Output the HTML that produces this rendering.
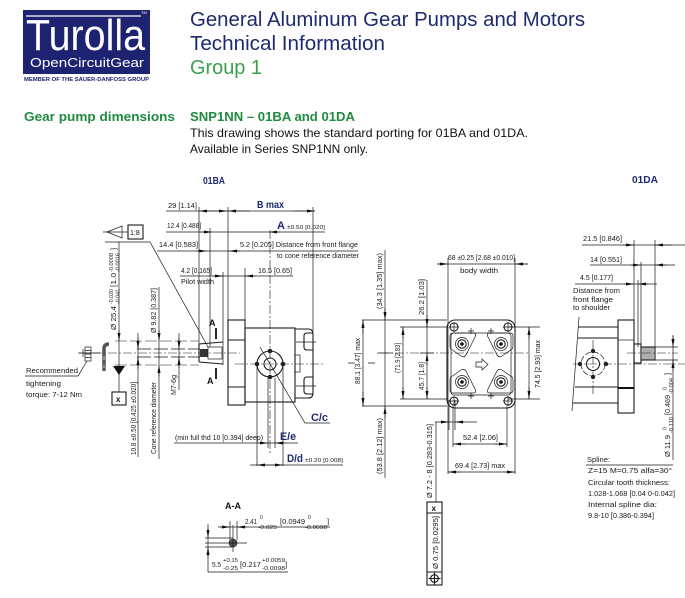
<!DOCTYPE html>
<html><head><meta charset="utf-8"><style>
html,body{margin:0;padding:0;background:#fff}
svg{display:block}
text{font-family:"Liberation Sans",sans-serif}
.t{font-size:7.5px;fill:#1a1a1a}
.s{font-size:5px;fill:#1a1a1a}
.b{font-weight:bold;fill:#1f2a6e}
.l{stroke:#1a1a1a;stroke-width:.7;fill:none}
.o{stroke:#1a1a1a;stroke-width:1.1;fill:none}
.c{stroke:#1a1a1a;stroke-width:.6;fill:none;stroke-dasharray:9 2 2 2}
.p{stroke:#1a1a1a;stroke-width:.6;fill:none;stroke-dasharray:12 3}
</style></head><body>
<svg width="685" height="598" viewBox="0 0 685 598" xmlns="http://www.w3.org/2000/svg">
<defs>
<marker id="a" viewBox="0 0 8 3" refX="8" refY="1.5" markerWidth="8" markerHeight="3" markerUnits="userSpaceOnUse" orient="auto"><path d="M0,0L8,1.5L0,3z" fill="#111"/></marker>
</defs>
<rect width="685" height="598" fill="#fff"/>

<!-- Header -->
<rect x="23" y="10" width="127" height="64" fill="#1d2371"/>
<line x1="26" y1="16" x2="141" y2="16" stroke="#fff" stroke-width="1.3"/>
<text x="26" y="50" font-size="44" fill="#fff" textLength="119" lengthAdjust="spacingAndGlyphs">Turolla</text>
<text x="141" y="14" font-size="4" fill="#fff">TM</text>
<text x="30" y="67" font-size="13" fill="#fff" textLength="114" lengthAdjust="spacingAndGlyphs">OpenCircuitGear</text>
<text x="24" y="81" font-size="5" font-weight="bold" fill="#1d2371" textLength="125" lengthAdjust="spacingAndGlyphs">MEMBER OF THE SAUER-DANFOSS GROUP</text>

<text x="190" y="26" font-size="20" fill="#1f2a6e" textLength="395" lengthAdjust="spacingAndGlyphs">General Aluminum Gear Pumps and Motors</text>
<text x="190" y="50" font-size="20" fill="#1f2a6e" textLength="195" lengthAdjust="spacingAndGlyphs">Technical Information</text>
<text x="190" y="74" font-size="20" fill="#3a9e4f" textLength="72" lengthAdjust="spacingAndGlyphs">Group 1</text>

<text x="24" y="121" font-size="13" font-weight="bold" fill="#1f8a40" textLength="151" lengthAdjust="spacingAndGlyphs">Gear pump dimensions</text>
<text x="190" y="121" font-size="13" font-weight="bold" fill="#1f8a40" textLength="165" lengthAdjust="spacingAndGlyphs">SNP1NN – 01BA and 01DA</text>
<text x="190" y="137" font-size="12" fill="#111" textLength="338" lengthAdjust="spacingAndGlyphs">This drawing shows the standard porting for 01BA and 01DA.</text>
<text x="190" y="153" font-size="12" fill="#111" textLength="178" lengthAdjust="spacingAndGlyphs">Available in Series SNP1NN only.</text>

<!-- ================= 01BA ================= -->
<text x="203" y="184" font-size="10" class="b" textLength="22" lengthAdjust="spacingAndGlyphs">01BA</text>

<!-- top dims -->
<path class="l" d="M166,211H315"/>
<text class="t" x="168" y="208" textLength="29" lengthAdjust="spacingAndGlyphs">29 [1.14]</text>
<path class="l" d="M213,211H199" marker-end="url(#a)"/>
<path class="l" d="M213,211H227" marker-end="url(#a)"/>
<path class="l" d="M250,211H228" marker-end="url(#a)"/>
<path class="l" d="M295,211H315" marker-end="url(#a)"/>
<text x="257" y="208" font-size="10.5" class="b" textLength="27" lengthAdjust="spacingAndGlyphs">B max</text>

<path class="l" d="M166,232H325"/>
<text class="t" x="167" y="228" textLength="34" lengthAdjust="spacingAndGlyphs">12.4 [0.488]</text>
<path class="l" d="M200,232H212" marker-end="url(#a)"/>
<path class="l" d="M280,232H269" marker-end="url(#a)"/>
<text x="277" y="229" font-size="11" class="b">A</text>
<text x="287" y="229" font-size="5.5" fill="#1a1a1a" textLength="38" lengthAdjust="spacingAndGlyphs">±0.50 [0.020]</text>

<path class="l" d="M157,251H358"/>
<text class="t" x="159" y="247" textLength="39" lengthAdjust="spacingAndGlyphs">14.4 [0.583]</text>
<path class="l" d="M196,251H207" marker-end="url(#a)"/>
<path class="l" d="M240,251H229" marker-end="url(#a)"/>
<text class="t" x="240" y="247" textLength="118" lengthAdjust="spacingAndGlyphs">5.2 [0.205] Distance from front flange</text>
<text class="t" x="277" y="258" textLength="82" lengthAdjust="spacingAndGlyphs">to cone reference diameter</text>

<path class="l" d="M180,276H293"/>
<text class="t" x="181" y="273" textLength="31" lengthAdjust="spacingAndGlyphs">4.2 [0.165]</text>
<text class="t" x="181" y="284" textLength="33" lengthAdjust="spacingAndGlyphs">Pilot width</text>
<text class="t" x="258" y="273" textLength="34" lengthAdjust="spacingAndGlyphs">16.5 [0.65]</text>
<path class="l" d="M212,276H223" marker-end="url(#a)"/>
<path class="l" d="M256,276H245" marker-end="url(#a)"/>

<!-- extension lines -->
<path class="l" d="M199,207V345 M210,228V347 M223,272V365 M228,207V320 M245,268V328 M313,207V331"/>
<path class="c" d="M270,230V455"/>

<!-- section A -->
<path d="M216,328V339 M216,368V379" stroke="#111" stroke-width="1.8"/>
<text x="209" y="326" font-size="9" font-weight="bold" fill="#111">A</text>
<text x="207" y="384" font-size="9" font-weight="bold" fill="#111">A</text>

<!-- shaft -->
<path class="p" d="M115,341H199 M115,365H199"/>
<path class="l" d="M137,349H200 M137,357H200" stroke-dasharray="14 3"/>
<path class="c" d="M78,353H240"/>
<path class="o" d="M199,344L223,342 M199,362L223,364 M199,344V362"/>
<rect x="200" y="349" width="8" height="8" fill="#333"/>
<rect x="208" y="347" width="14" height="12" class="l"/>

<!-- flange + body -->
<rect x="228" y="320" width="17" height="85" class="o"/>
<path class="o" d="M228,340H245 M228,387H245"/>
<rect x="245" y="328" width="50" height="74" class="o"/>
<path class="o" d="M295,329H308Q313,329 313,334V393Q313,398 308,398H295"/>
<path class="o" d="M313,333H307Q304,333 304,336V347Q304,350 307,350H313 M313,377H307Q304,377 304,380V391Q304,394 307,394H313"/>
<path class="l" d="M296,342H316 M296,386H316"/>
<rect x="295" y="355" width="5" height="17" class="l"/>
<circle cx="270" cy="364" r="13" class="o"/>
<circle cx="270" cy="364" r="6" class="o"/>
<circle cx="270" cy="351" r="2.3" fill="#222"/>
<circle cx="257" cy="364" r="2.3" fill="#222"/>
<circle cx="283" cy="364" r="2.3" fill="#222"/>
<circle cx="270" cy="377" r="2.3" fill="#222"/>
<path class="c" d="M235,364H323"/>

<!-- C/c -->
<path class="l" d="M260,347L305,423H330"/>
<text x="311" y="421" font-size="11" class="b" textLength="17" lengthAdjust="spacingAndGlyphs">C/c</text>

<!-- E/e and D/d -->
<path class="l" d="M257,366V466 M283,366V466 M268,378V448 M275,378V448"/>
<path class="l" d="M174,443H298"/>
<text class="t" x="175" y="440" textLength="88" lengthAdjust="spacingAndGlyphs">(min full thd 10 [0.394] deep)</text>
<path class="l" d="M258,443H268" marker-end="url(#a)"/>
<path class="l" d="M285,443H275" marker-end="url(#a)"/>
<text x="280" y="440" font-size="11" class="b" textLength="16" lengthAdjust="spacingAndGlyphs">E/e</text>
<path class="l" d="M250,465H343"/>
<path class="l" d="M270,465H257" marker-end="url(#a)"/>
<path class="l" d="M270,465H283" marker-end="url(#a)"/>
<text x="287" y="462" font-size="11" class="b" textLength="16" lengthAdjust="spacingAndGlyphs">D/d</text>
<text x="305" y="462" font-size="5.5" fill="#1a1a1a" textLength="38" lengthAdjust="spacingAndGlyphs">±0.20 [0.008]</text>

<!-- left annotations -->
<path class="l" d="M103,232H128"/>
<path class="l" d="M107,232L122,226V238Z"/>
<rect x="128" y="225" width="15" height="14" class="o"/>
<text x="130" y="235" font-size="7" fill="#111">1:8</text>
<path class="l" d="M105,242H150L208,347"/>
<path class="l" d="M119,242V392"/>
<path class="l" d="M119,330V341" marker-end="url(#a)"/>
<path d="M113,366H125L119,375Z" fill="#111"/>
<rect x="112" y="392" width="14" height="13" class="o"/>
<text x="116" y="402" font-size="8" font-weight="bold" fill="#111">x</text>
<g transform="translate(116,330) rotate(-90)" fill="#1a1a1a">
<text x="0" y="0" font-size="7.5" textLength="24" lengthAdjust="spacingAndGlyphs">Ø 25.4</text>
<text x="26" y="-3" font-size="5" textLength="15" lengthAdjust="spacingAndGlyphs">-0.020</text>
<text x="26" y="3.5" font-size="5" textLength="15" lengthAdjust="spacingAndGlyphs">-0.041</text>
<text x="43" y="0" font-size="7.5" textLength="14" lengthAdjust="spacingAndGlyphs">[1.0</text>
<text x="58" y="-3" font-size="5" textLength="19" lengthAdjust="spacingAndGlyphs">-0.0008</text>
<text x="58" y="3.5" font-size="5" textLength="19" lengthAdjust="spacingAndGlyphs">-0.0016</text>
<text x="80" y="0" font-size="7.5">]</text>
</g>

<!-- nut and key -->
<path class="l" d="M79,353H100 M83,349V357"/>
<rect x="85" y="347" width="6" height="14" class="l"/>
<path class="l" d="M85,350.5H91 M85,354H91 M85,357.5H91"/>
<path d="M104,371V349Q104,344 109,344" stroke="#555" stroke-width="3.5" fill="none"/>
<path d="M104,356V360 M104,365V368" stroke="#ccc" stroke-width="1"/>

<text class="t" x="26" y="373" textLength="52" lengthAdjust="spacingAndGlyphs">Recommended</text>
<path class="l" d="M25,376H78L87,361"/>
<text class="t" x="26" y="386" textLength="35" lengthAdjust="spacingAndGlyphs">tightening</text>
<text class="t" x="26" y="397" textLength="56" lengthAdjust="spacingAndGlyphs">torque: 7-12 Nm</text>

<!-- vertical dims -->
<path class="l" d="M138,333V457"/>
<path class="l" d="M138,337V349" marker-end="url(#a)"/>
<path class="l" d="M138,369V357" marker-end="url(#a)"/>
<text class="t" transform="translate(136,455) rotate(-90)" textLength="73" lengthAdjust="spacingAndGlyphs">10.8 ±0.50 [0.425 ±0.020]</text>
<path class="l" d="M159,287V459"/>
<path class="l" d="M159,330V341" marker-end="url(#a)"/>
<path class="l" d="M159,376V365" marker-end="url(#a)"/>
<text class="t" transform="translate(156,333) rotate(-90)" textLength="45" lengthAdjust="spacingAndGlyphs">Ø 9.82 [0.387]</text>
<text class="t" transform="translate(156,454) rotate(-90)" textLength="72" lengthAdjust="spacingAndGlyphs">Cone reference diameter</text>
<path class="l" d="M179,333V390"/>
<path class="l" d="M179,338V349" marker-end="url(#a)"/>
<path class="l" d="M179,368V357" marker-end="url(#a)"/>
<text class="t" transform="translate(176,395) rotate(-90)" textLength="20" lengthAdjust="spacingAndGlyphs">M7-6g</text>

<!-- A-A section -->
<text x="225" y="509" font-size="9" font-weight="bold" fill="#111" textLength="16" lengthAdjust="spacingAndGlyphs">A-A</text>
<circle cx="233" cy="543" r="4" fill="#555" stroke="#111" stroke-width=".6"/>
<path class="l" d="M205,543H247 M233,525V552 M205,538H233 M205,547H233 M230,521V540 M237,521V540"/>
<path class="l" d="M218,527H330"/>
<path class="l" d="M220,527H230" marker-end="url(#a)"/>
<path class="l" d="M247,527H237" marker-end="url(#a)"/>
<text class="t" x="245" y="524" textLength="12" lengthAdjust="spacingAndGlyphs">2.41</text>
<text class="s" x="260" y="519">0</text>
<text class="s" x="258" y="529" textLength="19" lengthAdjust="spacingAndGlyphs">-0.025</text>
<text class="t" x="280" y="524" textLength="25" lengthAdjust="spacingAndGlyphs">[0.0949</text>
<text class="s" x="308" y="519">0</text>
<text class="s" x="305" y="529" textLength="22" lengthAdjust="spacingAndGlyphs">-0.0098</text>
<text class="t" x="327" y="524">]</text>
<path class="l" d="M208,524V572H288"/>
<path class="l" d="M208,527V538" marker-end="url(#a)"/>
<path class="l" d="M208,558V547" marker-end="url(#a)"/>
<text class="t" x="212" y="567" textLength="9" lengthAdjust="spacingAndGlyphs">5.5</text>
<text class="s" x="223" y="562" textLength="15" lengthAdjust="spacingAndGlyphs">+0.15</text>
<text class="s" x="223" y="570" textLength="15" lengthAdjust="spacingAndGlyphs">-0.25</text>
<text class="t" x="240" y="567" textLength="21" lengthAdjust="spacingAndGlyphs">[0.217</text>
<text class="s" x="262" y="562" textLength="23" lengthAdjust="spacingAndGlyphs">+0.0059</text>
<text class="s" x="262" y="570" textLength="23" lengthAdjust="spacingAndGlyphs">-0.0098</text>
<text class="t" x="285" y="567">]</text>

<!-- ================= Middle view ================= -->
<path class="l" d="M437,264H528"/>
<path class="l" d="M437,264H448" marker-end="url(#a)"/>
<path class="l" d="M528,264H515" marker-end="url(#a)"/>
<text class="t" x="448" y="260" textLength="67" lengthAdjust="spacingAndGlyphs">68 ±0.25 [2.68 ±0.010]</text>
<text class="t" x="460" y="273" textLength="38" lengthAdjust="spacingAndGlyphs">body width</text>
<path class="l" d="M448,258V474 M515,258V474"/>

<rect x="447" y="320" width="68" height="88" rx="8" class="o"/>
<rect x="451" y="333" width="60" height="62" rx="3" class="l"/>
<circle cx="454" cy="327" r="4" class="o"/><circle cx="508" cy="327" r="4" class="o"/>
<circle cx="454" cy="401" r="4" class="o"/><circle cx="508" cy="401" r="4" class="o"/>
<path class="l" d="M449,327H459 M454,322V332 M503,327H513 M508,322V332 M449,401H459 M454,396V406 M503,401H513 M508,396V406"/>
<path class="l" d="M450,336Q450,333 453,333L473,333Q477,333 475,337L466,355Q464,358 461,356L451,349Q450,348 450,346Z"/>
<path class="l" d="M513,336Q513,333 510,333L490,333Q486,333 488,337L497,355Q499,358 502,356L512,349Q513,348 513,346Z"/>
<path class="l" d="M450,390Q450,393 453,393L473,393Q477,393 475,389L466,371Q464,368 461,370L451,377Q450,378 450,380Z"/>
<path class="l" d="M513,390Q513,393 510,393L490,393Q486,393 488,389L497,371Q499,368 502,370L512,377Q513,378 513,380Z"/>
<circle cx="462" cy="344" r="6.5" class="l"/><circle cx="462" cy="344" r="4.2" class="o"/><circle cx="462" cy="344" r="1.8" fill="#111"/>
<circle cx="501" cy="344" r="6.5" class="l"/><circle cx="501" cy="344" r="4.2" class="o"/><circle cx="501" cy="344" r="1.8" fill="#111"/>
<circle cx="462" cy="382" r="6.5" class="l"/><circle cx="462" cy="382" r="4.2" class="o"/><circle cx="462" cy="382" r="1.8" fill="#111"/>
<circle cx="501" cy="382" r="6.5" class="l"/><circle cx="501" cy="382" r="4.2" class="o"/><circle cx="501" cy="382" r="1.8" fill="#111"/>
<path class="l" d="M468,331H474 M471,328V334 M488,331H494 M491,328V334 M468,396H474 M471,393V399 M488,396H494 M491,393V399"/>
<path class="c" d="M380,353H530"/>
<path class="l" d="M476,362H482V359L488,364.5L482,370V367H476Z"/>

<!-- left vertical dims -->
<path class="l" d="M362,320H447 M362,406H447 M400,327H447 M400,399H447"/>
<path class="l" d="M385,250V478"/>
<path class="l" d="M385,308V320" marker-end="url(#a)"/>
<path class="l" d="M385,418V406" marker-end="url(#a)"/>
<path class="l" d="M377,353H393"/>
<text class="t" transform="translate(382,309) rotate(-90)" textLength="56" lengthAdjust="spacingAndGlyphs">(34.3 [1.35] max)</text>
<text class="t" transform="translate(382,474) rotate(-90)" textLength="56" lengthAdjust="spacingAndGlyphs">(53.8 [2.12] max)</text>
<path class="l" d="M363,320V406"/>
<path class="l" d="M363,334V320" marker-end="url(#a)"/>
<path class="l" d="M363,392V406" marker-end="url(#a)"/>
<path class="l" d="M348,363H355 M368,363H375"/>
<text class="t" transform="translate(360,384) rotate(-90)" textLength="46" lengthAdjust="spacingAndGlyphs">88.1 [3.47] max</text>
<path class="l" d="M403,327V399"/>
<path class="l" d="M403,339V327" marker-end="url(#a)"/>
<path class="l" d="M403,387V399" marker-end="url(#a)"/>
<text class="t" transform="translate(400,373) rotate(-90)" textLength="30" lengthAdjust="spacingAndGlyphs">(71.9 [2.83]</text>
<path class="l" d="M427,280V399 M420,353H434"/>
<path class="l" d="M427,315V327" marker-end="url(#a)"/>
<path class="l" d="M427,365V353" marker-end="url(#a)"/>
<path class="l" d="M427,387V399" marker-end="url(#a)"/>
<text class="t" transform="translate(424,315) rotate(-90)" textLength="36" lengthAdjust="spacingAndGlyphs">26.2 [1.03]</text>
<text class="t" transform="translate(424,390) rotate(-90)" textLength="28" lengthAdjust="spacingAndGlyphs">45.7 [1.8]</text>

<!-- right dim -->
<path class="l" d="M508,327H540 M508,399H540"/>
<path class="l" d="M529,327V399"/>
<path class="l" d="M529,339V327" marker-end="url(#a)"/>
<path class="l" d="M529,387V399" marker-end="url(#a)"/>
<text class="t" transform="translate(540,388) rotate(-90)" textLength="48" lengthAdjust="spacingAndGlyphs">74.5 [2.93] max</text>

<!-- bottom dims -->
<path class="l" d="M453,406V447 M507,406V447"/>
<path class="l" d="M453,444H507"/>
<path class="l" d="M465,444H453" marker-end="url(#a)"/>
<path class="l" d="M495,444H507" marker-end="url(#a)"/>
<text class="t" x="463" y="440" textLength="35" lengthAdjust="spacingAndGlyphs">52.4 [2.06]</text>
<path class="l" d="M448,472H515"/>
<path class="l" d="M460,472H448" marker-end="url(#a)"/>
<path class="l" d="M503,472H515" marker-end="url(#a)"/>
<text class="t" x="455" y="468" textLength="50" lengthAdjust="spacingAndGlyphs">69.4 [2.73] max</text>
<path class="l" d="M449,400V430 M455,400V430"/>
<path class="l" d="M435,422H477"/>
<path class="l" d="M440,422H449" marker-end="url(#a)"/>
<path class="l" d="M464,422H455" marker-end="url(#a)"/>
<path class="l" d="M436,422V502"/>
<text class="t" transform="translate(432,498) rotate(-90)" textLength="74" lengthAdjust="spacingAndGlyphs">Ø 7.2 - 8 [0.283-0.315]</text>

<!-- tolerance frame -->
<rect x="427" y="502" width="15" height="83" class="o"/>
<path class="o" d="M427,513H442 M427,572H442"/>
<text x="431.5" y="511" font-size="8" font-weight="bold" fill="#111">x</text>
<text class="t" transform="translate(438,569) rotate(-90)" textLength="53" lengthAdjust="spacingAndGlyphs">Ø 0.75 [0.0295]</text>
<circle cx="434.5" cy="578.5" r="3.8" class="o"/>
<path class="o" d="M428.5,578.5H440.5 M434.5,572.5V584.5"/>

<!-- ================= 01DA ================= -->
<text x="632" y="183" font-size="10" class="b" textLength="26" lengthAdjust="spacingAndGlyphs">01DA</text>
<path class="l" d="M582,245H685"/>
<text class="t" x="583" y="241" textLength="39" lengthAdjust="spacingAndGlyphs">21.5 [0.846]</text>
<path class="l" d="M623,245H634" marker-end="url(#a)"/>
<path class="l" d="M672,245H655" marker-end="url(#a)"/>
<path class="l" d="M590,265H675"/>
<text class="t" x="590" y="262" textLength="32" lengthAdjust="spacingAndGlyphs">14 [0.551]</text>
<path class="l" d="M630,265H641" marker-end="url(#a)"/>
<path class="l" d="M667,265H655" marker-end="url(#a)"/>
<path class="l" d="M575,284H657"/>
<text class="t" x="580" y="280" textLength="33" lengthAdjust="spacingAndGlyphs">4.5 [0.177]</text>
<path class="l" d="M624,284H634" marker-end="url(#a)"/>
<path class="l" d="M648,284H638" marker-end="url(#a)"/>
<text class="t" x="573" y="293" textLength="47" lengthAdjust="spacingAndGlyphs">Distance from</text>
<text class="t" x="573" y="302" textLength="40" lengthAdjust="spacingAndGlyphs">front flange</text>
<text class="t" x="573" y="310" textLength="37" lengthAdjust="spacingAndGlyphs">to shoulder</text>
<path class="l" d="M634,240V320 M655,240V347 M638,280V347 M641,262V347"/>

<rect x="618" y="320" width="16" height="93" class="o"/>
<path class="l" d="M618,340H634"/>
<path d="M618,388H634" stroke="#111" stroke-width="2"/>
<path class="o" d="M578,327H618 M578,338H618 M575,387H618 M573,403H618"/>
<path class="l" d="M579,317L572,411"/>
<circle cx="593" cy="364" r="12" class="l" stroke-dasharray="6 2"/>
<circle cx="593" cy="364" r="6.5" class="o"/>
<circle cx="593" cy="351" r="2.2" fill="#222"/><circle cx="593" cy="377" r="2.2" fill="#222"/>
<circle cx="580" cy="364" r="2.2" fill="#222"/><circle cx="606" cy="364" r="2.2" fill="#222"/>
<path class="c" d="M573,364H685 M593,340V395"/>

<!-- shaft -->
<rect x="634" y="344" width="7" height="19" class="o"/>
<rect x="641" y="347" width="14" height="13" class="o"/>
<path class="l" d="M643,347V360 M645,347V360 M647,347V360 M649,347V360 M651,347V360 M653,347V360"/>
<path class="c" d="M627,353H678"/>
<path class="l" d="M655,347H678 M655,360H678"/>
<path class="l" d="M673,335V460"/>
<path class="l" d="M673,336V347" marker-end="url(#a)"/>
<path class="l" d="M673,371V360" marker-end="url(#a)"/>
<g transform="translate(670,457) rotate(-90)" fill="#1a1a1a">
<text x="0" y="0" font-size="7.5" textLength="22" lengthAdjust="spacingAndGlyphs">Ø 11.9</text>
<text x="27" y="-3.5" font-size="5">0</text>
<text x="24" y="3" font-size="5" textLength="16" lengthAdjust="spacingAndGlyphs">-0.110</text>
<text x="42" y="0" font-size="7.5" textLength="20" lengthAdjust="spacingAndGlyphs">[0.469</text>
<text x="67" y="-3.5" font-size="5">0</text>
<text x="63" y="3" font-size="5" textLength="16" lengthAdjust="spacingAndGlyphs">-0.004</text>
<text x="82" y="0" font-size="7.5">]</text>
</g>

<!-- spline note -->
<text class="t" x="587" y="462" textLength="23" lengthAdjust="spacingAndGlyphs">Spline:</text>
<path class="l" d="M586,465H673"/>
<text class="t" x="588" y="473" textLength="84" lengthAdjust="spacingAndGlyphs">Z=15  M=0.75  alfa=30°</text>
<text class="t" x="588" y="485" textLength="82" lengthAdjust="spacingAndGlyphs">Circular tooth thickness:</text>
<text class="t" x="588" y="496" textLength="87" lengthAdjust="spacingAndGlyphs">1.028-1.068 [0.04 0-0.042]</text>
<text class="t" x="588" y="507" textLength="69" lengthAdjust="spacingAndGlyphs">Internal spline dia:</text>
<text class="t" x="588" y="518" textLength="66" lengthAdjust="spacingAndGlyphs">9.8-10 [0.386-0.394]</text>
</svg>
</body></html>
